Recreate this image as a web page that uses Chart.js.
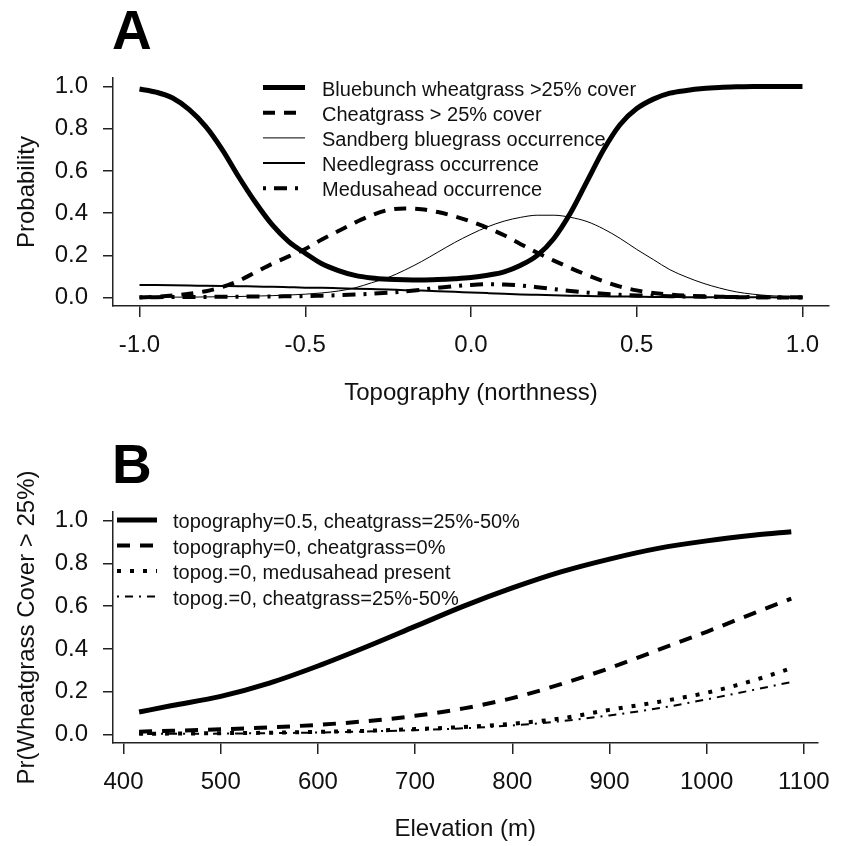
<!DOCTYPE html>
<html>
<head>
<meta charset="utf-8">
<script src="https://cdn.jsdelivr.net/npm/chart.js@4.4.0/dist/chart.umd.min.js"></script>
<style>
  body { margin: 0; background: #fff; }
  canvas { display: block; }
</style>
</head>
<body>
<canvas id="chartA" width="844" height="420"></canvas>
<canvas id="chartB" width="844" height="426"></canvas>
<script>
// Panel A data (topography / northness)
const northness = [-1.0, -0.95, -0.9, -0.85, -0.8, -0.75, -0.7, -0.65, -0.6, -0.55, -0.5, -0.45, -0.4, -0.35, -0.3, -0.25, -0.2, -0.15, -0.1, -0.05,
    0.0, 0.05, 0.1, 0.15, 0.2, 0.25, 0.3, 0.35, 0.4, 0.45, 0.5, 0.55, 0.6, 0.65, 0.7, 0.75, 0.8, 0.85, 0.9, 0.95, 1.0];
const bluebunch = [0.988, 0.973, 0.945, 0.89, 0.81, 0.70, 0.57, 0.45, 0.345, 0.265, 0.21, 0.16, 0.128, 0.105, 0.093, 0.087, 0.084, 0.083, 0.085, 0.089,
    0.095, 0.106, 0.122, 0.153, 0.20, 0.28, 0.40, 0.55, 0.70, 0.82, 0.895, 0.94, 0.968, 0.981, 0.99, 0.995, 0.998, 1.0, 1.0, 1.0, 1.0];
const cheatgrass = [0.0, 0.004, 0.01, 0.018, 0.03, 0.05, 0.08, 0.12, 0.16, 0.195, 0.23, 0.275, 0.315, 0.355, 0.39, 0.415, 0.422, 0.418, 0.405, 0.385,
    0.36, 0.33, 0.295, 0.253, 0.212, 0.175, 0.14, 0.107, 0.077, 0.052, 0.034, 0.022, 0.014, 0.009, 0.006, 0.004, 0.002, 0.001, 0.001, 0.0, 0.0];
const sandberg = [0.001, 0.001, 0.002, 0.002, 0.003, 0.004, 0.005, 0.007, 0.009, 0.012, 0.016, 0.022, 0.031, 0.046, 0.07, 0.095, 0.13, 0.17, 0.215, 0.26,
    0.30, 0.335, 0.362, 0.38, 0.39, 0.39, 0.38, 0.36, 0.325, 0.28, 0.228, 0.18, 0.132, 0.097, 0.068, 0.045, 0.027, 0.016, 0.009, 0.005, 0.003];
const needlegrass = [0.06, 0.059, 0.058, 0.057, 0.056, 0.055, 0.054, 0.052, 0.051, 0.049, 0.047, 0.046, 0.044, 0.042, 0.04, 0.038, 0.035, 0.033, 0.03, 0.027,
    0.024, 0.021, 0.018, 0.015, 0.013, 0.011, 0.009, 0.007, 0.006, 0.005, 0.004, 0.003, 0.003, 0.002, 0.002, 0.001, 0.001, 0.001, 0.001, 0.0, 0.0];
const medusahead = [0.002, 0.002, 0.003, 0.003, 0.003, 0.004, 0.004, 0.005, 0.005, 0.006, 0.007, 0.009, 0.011, 0.014, 0.018, 0.023, 0.029, 0.037, 0.046, 0.054,
    0.06, 0.063, 0.062, 0.057, 0.049, 0.04, 0.031, 0.024, 0.018, 0.013, 0.01, 0.008, 0.006, 0.005, 0.004, 0.003, 0.003, 0.002, 0.002, 0.001, 0.001];
const xTicksA = [-1.0, -0.5, 0.0, 0.5, 1.0];

// Panel B data (elevation)
const elevation = [416, 450, 500, 550, 600, 650, 700, 750, 800, 850, 900, 950, 1000, 1050, 1087];
const topo05Cheat25 = [0.105, 0.135, 0.178, 0.24, 0.32, 0.41, 0.505, 0.60, 0.685, 0.76, 0.82, 0.87, 0.905, 0.932, 0.948];
const topo0Cheat0 = [0.013, 0.017, 0.024, 0.033, 0.045, 0.062, 0.087, 0.122, 0.17, 0.235, 0.31, 0.395, 0.48, 0.57, 0.635];
const topo0Medusa = [0.003, 0.004, 0.006, 0.008, 0.012, 0.017, 0.025, 0.035, 0.05, 0.075, 0.115, 0.152, 0.195, 0.255, 0.31];
const topo0Cheat25 = [0.002, 0.003, 0.004, 0.006, 0.009, 0.014, 0.02, 0.029, 0.042, 0.062, 0.089, 0.122, 0.164, 0.21, 0.245];
const xTicksB = [400, 500, 600, 700, 800, 900, 1000, 1100];

const yTicks = [0.0, 0.2, 0.4, 0.6, 0.8, 1.0];

const FONT = "'Liberation Sans', Arial, sans-serif";
const INK = "#111";
const AXIS = "#222";

function pts(xs, ys) {
    return xs.map((x, i) => ({ x: x, y: ys[i] }));
}

function line(label, xs, ys, width, dash) {
    return {
        label: label,
        data: pts(xs, ys),
        borderColor: "#000",
        borderWidth: width,
        borderDash: dash,
        pointRadius: 0,
        fill: false,
        cubicInterpolationMode: "monotone"
    };
}

// R style legend drawn inside the plot
const rLegend = {
    id: "rLegend",
    afterDraw(chart, args, opts) {
        const ctx = chart.ctx;
        ctx.save();
        chart.data.datasets.forEach((ds, i) => {
            const y = opts.top + i * opts.step;
            ctx.beginPath();
            ctx.setLineDash(ds.borderDash || []);
            ctx.lineWidth = ds.borderWidth;
            ctx.strokeStyle = "#000";
            ctx.moveTo(opts.x0, y);
            ctx.lineTo(opts.x1, y);
            ctx.stroke();
            ctx.setLineDash([]);
            ctx.fillStyle = INK;
            ctx.font = opts.size + "px " + FONT;
            ctx.textBaseline = "middle";
            ctx.fillText(ds.label, opts.textX, y + 2.5);
        });
        ctx.restore();
    }
};

// big panel letter
const panelLetter = {
    id: "panelLetter",
    afterDraw(chart, args, opts) {
        const ctx = chart.ctx;
        ctx.save();
        ctx.fillStyle = "#000";
        ctx.font = "bold " + opts.size + "px " + FONT;
        ctx.textBaseline = "alphabetic";
        ctx.fillText(opts.text, opts.x, opts.y);
        ctx.restore();
    }
};

function scales(xMin, xMax, xTicks, xFmt, xTitle, xHeight, xTitlePad, yTitle) {
    return {
        x: {
            type: "linear",
            min: xMin,
            max: xMax,
            afterBuildTicks: s => { s.ticks = xTicks.map(v => ({ value: v })); },
            afterFit: s => { s.height = xHeight; },
            grid: { drawOnChartArea: false, drawTicks: true, tickLength: 11, color: AXIS, lineWidth: 1.5 },
            border: { display: true, color: AXIS, width: 1.5 },
            ticks: { color: INK, font: { size: 24, family: FONT }, padding: 14, maxRotation: 0, autoSkip: false, callback: xFmt },
            title: { display: true, text: xTitle, color: INK, font: { size: 24, family: FONT }, padding: { top: 0, bottom: xTitlePad } }
        },
        y: {
            type: "linear",
            min: -0.04,
            max: 1.04,
            afterBuildTicks: s => { s.ticks = yTicks.map(v => ({ value: v })); },
            afterFit: s => { s.width = 113; },
            grid: { drawOnChartArea: false, drawTicks: true, tickLength: 10, color: AXIS, lineWidth: 1.5 },
            border: { display: true, color: AXIS, width: 1.5 },
            ticks: { color: INK, font: { size: 24, family: FONT }, padding: 15, callback: v => v.toFixed(1) },
            title: { display: true, text: yTitle, color: INK, font: { size: 24, family: FONT }, padding: { top: 13, bottom: 0 } }
        }
    };
}

// Panel A
new Chart(document.getElementById("chartA"), {
    type: "line",
    data: {
        datasets: [
            line("Bluebunch wheatgrass >25% cover", northness, bluebunch, 5, []),
            line("Cheatgrass > 25% cover", northness, cheatgrass, 4, [12, 9]),
            line("Sandberg bluegrass occurrence", northness, sandberg, 1, []),
            line("Needlegrass occurrence", northness, needlegrass, 2, []),
            line("Medusahead occurrence", northness, medusahead, 4, [3, 8, 13, 8])
        ]
    },
    plugins: [rLegend, panelLetter],
    options: {
        responsive: false,
        animation: false,
        devicePixelRatio: 1,
        layout: { padding: { left: 0, right: 15, top: 78, bottom: 0 } },
        scales: scales(-1.08, 1.08, xTicksA, v => v.toFixed(1), "Topography (northness)", 114, 12, "Probability"),
        plugins: {
            legend: { display: false },
            tooltip: { enabled: false },
            rLegend: { x0: 263, x1: 305, textX: 322, top: 87.5, step: 25.2, size: 20 },
            panelLetter: { text: "A", x: 112, y: 49, size: 55 }
        }
    }
});

// Panel B
new Chart(document.getElementById("chartB"), {
    type: "line",
    data: {
        datasets: [
            line("topography=0.5, cheatgrass=25%-50%", elevation, topo05Cheat25, 5, []),
            line("topography=0, cheatgrass=0%", elevation, topo0Cheat0, 4, [13, 10]),
            line("topog.=0, medusahead present", elevation, topo0Medusa, 4, [4, 9]),
            line("topog.=0, cheatgrass=25%-50%", elevation, topo0Cheat25, 2, [2, 6, 8, 6])
        ]
    },
    plugins: [rLegend, panelLetter],
    options: {
        responsive: false,
        animation: false,
        devicePixelRatio: 1,
        layout: { padding: { left: 0, right: 15, top: 92, bottom: 0 } },
        scales: scales(389.16, 1113.84, xTicksB, v => String(v), "Elevation (m)", 103, 2, "Pr(Wheatgrass Cover > 25%)"),
        plugins: {
            legend: { display: false },
            tooltip: { enabled: false },
            rLegend: { x0: 117, x1: 157, textX: 173, top: 100, step: 25.5, size: 20 },
            panelLetter: { text: "B", x: 112, y: 63, size: 55 }
        }
    }
});
</script>
</body>
</html>
